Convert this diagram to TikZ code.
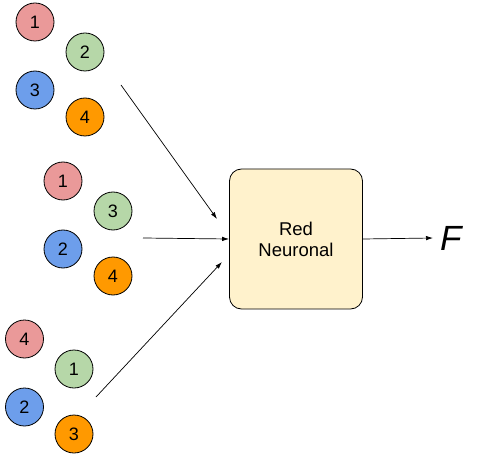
\documentclass[tikz,border=0pt]{standalone}
\usepackage{fontspec}
\setmainfont{Liberation Sans}
\usetikzlibrary{arrows.meta}
\definecolor{ballred}{HTML}{EA9999}
\definecolor{ballgreen}{HTML}{B6D7A8}
\definecolor{ballblue}{HTML}{6D9EEB}
\definecolor{ballorange}{HTML}{FF9900}
\definecolor{netfill}{HTML}{FFF2CC}

\begin{document}
\begin{tikzpicture}[x=1pt,y=-1pt,
	ball/.style={circle,draw,line width=0.8pt,minimum size=38pt,inner sep=0pt,font=\fontsize{18}{18}\selectfont},
	feed/.style={line width=0.7pt,-{Latex[length=7pt,width=4.5pt]}}]
		\useasboundingbox (0,0) rectangle (481,462);
		\node[ball,fill=ballred] (a1) at (35,22) {1};
		\node[ball,fill=ballgreen] (a2) at (85,52) {2};
		\node[ball,fill=ballblue] (a3) at (35,90) {3};
		\node[ball,fill=ballorange] (a4) at (85,117) {4};
		\node[ball,fill=ballred] (b1) at (63,181) {1};
		\node[ball,fill=ballgreen] (b3) at (113,211) {3};
		\node[ball,fill=ballblue] (b2) at (63,249) {2};
		\node[ball,fill=ballorange] (b4) at (113,276) {4};
		\node[ball,fill=ballred] (c4) at (24.5,339) {4};
		\node[ball,fill=ballgreen] (c1) at (74,369) {1};
		\node[ball,fill=ballblue] (c2) at (24.5,407) {2};
		\node[ball,fill=ballorange] (c3) at (74,434) {3};
		\node[draw,fill=netfill,line width=0.8pt,rounded corners=12pt,minimum width=133pt,minimum height=140pt,
			align=center,font=\fontsize{18.5}{21}\selectfont] (net) at (296,239) {Red\\Neuronal};
		\node[anchor=west,inner xsep=7pt,inner ysep=3pt,font=\fontsize{35}{35}\selectfont\itshape] (out) at (433,238) {F};
		\coordinate (afrom) at (121,85);
		\coordinate (ato) at (217,219);
		\coordinate (bfrom) at (143,238);
		\coordinate (cfrom) at (96,397);
		\coordinate (cto) at (222,262);
		\draw[feed] (afrom) -- (ato);
		\draw[feed] (bfrom) -- (net.west);
		\draw[feed] (cfrom) -- (cto);
		\draw[feed] (net.east) -- (out.west);
\end{tikzpicture}
\end{document}
